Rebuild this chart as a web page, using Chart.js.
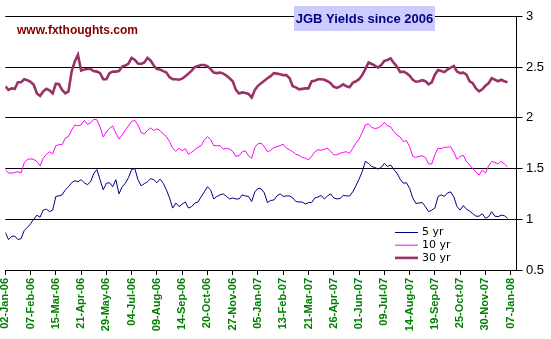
<!DOCTYPE html>
<html>
<head>
<meta charset="utf-8">
<title>JGB Yields since 2006</title>
<script src="https://cdn.jsdelivr.net/npm/chart.js@4/dist/chart.umd.min.js"></script>
<style>
  html, body { margin: 0; padding: 0; background: #ffffff; }
  canvas { display: block; }
</style>
</head>
<body>
<canvas id="jgbChart" width="551" height="339"></canvas>
<script>
// tick labels on the date axis, one every 26 trading days
var tickLabels = ["02-Jan-06", "07-Feb-06", "15-Mar-06", "21-Apr-06", "29-May-06", "04-Jul-06",
    "09-Aug-06", "14-Sep-06", "20-Oct-06", "27-Nov-06", "05-Jan-07", "13-Feb-07", "21-Mar-07",
    "26-Apr-07", "01-Jun-07", "09-Jul-07", "14-Aug-07", "19-Sep-07", "25-Oct-07", "30-Nov-07", "07-Jan-08"];
var samplesPerTick = 8;   // readings taken 8 times per labelled interval

var seriesNames = ["5 yr", "10 yr", "30 yr"];

var fiveYear = [
    0.87, 0.80, 0.83, 0.835, 0.80, 0.81, 0.89, 0.92, 0.955, 1.00,
    1.04, 1.02, 1.09, 1.10, 1.075, 1.09, 1.225, 1.23, 1.24, 1.29,
    1.32, 1.36, 1.38, 1.37, 1.39, 1.36, 1.34, 1.37, 1.45, 1.49,
    1.39, 1.29, 1.355, 1.36, 1.32, 1.39, 1.25, 1.32, 1.355, 1.41,
    1.49, 1.50, 1.39, 1.33, 1.35, 1.37, 1.40, 1.39, 1.36, 1.395,
    1.355, 1.29, 1.21, 1.11, 1.16, 1.125, 1.15, 1.17, 1.11, 1.125,
    1.16, 1.17, 1.22, 1.27, 1.32, 1.29, 1.20, 1.225, 1.24, 1.25,
    1.225, 1.20, 1.21, 1.20, 1.20, 1.24, 1.23, 1.225, 1.175, 1.27,
    1.305, 1.30, 1.26, 1.165, 1.185, 1.19, 1.23, 1.25, 1.225, 1.23,
    1.23, 1.21, 1.175, 1.17, 1.17, 1.15, 1.165, 1.165, 1.21, 1.22,
    1.235, 1.20, 1.23, 1.25, 1.21, 1.20, 1.205, 1.235, 1.23, 1.23,
    1.27, 1.33, 1.395, 1.47, 1.57, 1.55, 1.52, 1.51, 1.495, 1.51,
    1.55, 1.52, 1.535, 1.49, 1.455, 1.395, 1.355, 1.36, 1.305, 1.21,
    1.155, 1.16, 1.165, 1.125, 1.075, 1.09, 1.11, 1.225, 1.24, 1.225,
    1.26, 1.27, 1.22, 1.125, 1.09, 1.135, 1.10, 1.08, 1.055, 1.03,
    1.03, 1.055, 1.01, 1.025, 1.075, 1.03, 1.025, 1.04, 1.035, 1.01
];

var tenYear = [
    1.49, 1.455, 1.455, 1.46, 1.47, 1.455, 1.56, 1.59, 1.595, 1.59,
    1.57, 1.525, 1.60, 1.64, 1.665, 1.645, 1.725, 1.735, 1.735, 1.80,
    1.815, 1.88, 1.93, 1.92, 1.93, 1.975, 1.935, 1.95, 1.985, 1.98,
    1.91, 1.81, 1.86, 1.895, 1.92, 1.85, 1.79, 1.83, 1.88, 1.92,
    1.965, 1.975, 1.93, 1.855, 1.84, 1.875, 1.90, 1.875, 1.89, 1.875,
    1.84, 1.815, 1.765, 1.70, 1.67, 1.70, 1.675, 1.695, 1.64, 1.66,
    1.685, 1.71, 1.725, 1.785, 1.815, 1.785, 1.725, 1.725, 1.725, 1.69,
    1.70, 1.69, 1.67, 1.62, 1.625, 1.665, 1.675, 1.625, 1.60, 1.71,
    1.745, 1.75, 1.715, 1.665, 1.68, 1.705, 1.715, 1.725, 1.74, 1.70,
    1.685, 1.665, 1.64, 1.63, 1.61, 1.60, 1.585, 1.62, 1.665, 1.685,
    1.68, 1.69, 1.70, 1.67, 1.635, 1.635, 1.65, 1.66, 1.665, 1.65,
    1.70, 1.75, 1.79, 1.855, 1.93, 1.94, 1.905, 1.895, 1.90, 1.92,
    1.955, 1.92, 1.91, 1.865, 1.83, 1.81, 1.765, 1.775, 1.715, 1.62,
    1.61, 1.62, 1.625, 1.61, 1.545, 1.545, 1.635, 1.70, 1.695, 1.71,
    1.71, 1.715, 1.66, 1.59, 1.62, 1.63, 1.57, 1.535, 1.50, 1.465,
    1.435, 1.485, 1.455, 1.525, 1.57, 1.56, 1.545, 1.57, 1.545, 1.515
];

var thirtyYear = [
    2.31, 2.275, 2.29, 2.285, 2.35, 2.35, 2.38, 2.37, 2.355, 2.325,
    2.24, 2.215, 2.26, 2.285, 2.27, 2.24, 2.335, 2.33, 2.275, 2.24,
    2.26, 2.455, 2.555, 2.62, 2.465, 2.475, 2.48, 2.48, 2.46, 2.455,
    2.44, 2.38, 2.38, 2.44, 2.455, 2.455, 2.46, 2.505, 2.515, 2.535,
    2.59, 2.57, 2.535, 2.53, 2.545, 2.59, 2.565, 2.515, 2.48, 2.475,
    2.46, 2.445, 2.40, 2.38, 2.38, 2.375, 2.385, 2.41, 2.435, 2.465,
    2.50, 2.51, 2.52, 2.52, 2.51, 2.48, 2.445, 2.44, 2.445, 2.435,
    2.415, 2.39, 2.36, 2.275, 2.24, 2.25, 2.245, 2.235, 2.20, 2.275,
    2.315, 2.34, 2.365, 2.39, 2.41, 2.44, 2.435, 2.43, 2.42, 2.42,
    2.39, 2.31, 2.30, 2.28, 2.285, 2.29, 2.29, 2.36, 2.365, 2.38,
    2.38, 2.375, 2.36, 2.34, 2.305, 2.295, 2.31, 2.33, 2.31, 2.30,
    2.345, 2.36, 2.38, 2.42, 2.48, 2.545, 2.53, 2.515, 2.495, 2.52,
    2.56, 2.57, 2.585, 2.54, 2.505, 2.45, 2.455, 2.44, 2.415, 2.375,
    2.355, 2.36, 2.37, 2.36, 2.33, 2.35, 2.425, 2.47, 2.46, 2.45,
    2.475, 2.495, 2.51, 2.455, 2.44, 2.445, 2.425, 2.36, 2.34, 2.29,
    2.26, 2.28, 2.315, 2.34, 2.39, 2.375, 2.36, 2.375, 2.36, 2.35
];

var titleText = "JGB Yields since 2006";
var siteText = "www.fxthoughts.com";

function toPoints(values) {
    return values.map(function(v, i) { return { x: i, y: v }; });
}

// title box, site name and the legend sit inside the plot like in the excel original
var overlayPlugin = {
    id: 'overlay',
    afterDraw: function(chart) {
        var ctx = chart.ctx;
        ctx.save();

        ctx.fillStyle = '#CCCCFF';
        ctx.fillRect(294, 6, 141, 25);
        ctx.fillStyle = '#000080';
        ctx.font = 'bold 13px "Liberation Sans", Arial, sans-serif';
        ctx.textAlign = 'center';
        ctx.textBaseline = 'middle';
        ctx.fillText(titleText, 364.5, 19);

        ctx.fillStyle = '#800000';
        ctx.font = 'bold 12px "Liberation Sans", Arial, sans-serif';
        ctx.textAlign = 'left';
        ctx.fillText(siteText, 17, 30.5);

        ctx.font = '11px "DejaVu Sans", sans-serif';
        chart.data.datasets.forEach(function(ds, i) {
            var y = 232.5 + i * 12.7;
            ctx.strokeStyle = ds.borderColor;
            ctx.lineWidth = ds.borderWidth;
            ctx.beginPath();
            ctx.moveTo(395, y);
            ctx.lineTo(418, y);
            ctx.stroke();
            ctx.fillStyle = '#000000';
            ctx.fillText(ds.label, 422, y);
        });
        ctx.restore();
    }
};

var ctx = document.getElementById('jgbChart').getContext('2d');
var chart = new Chart(ctx, {
    type: 'line',
    data: {
        datasets: [
            { label: seriesNames[0], data: toPoints(fiveYear), borderColor: '#000080', borderWidth: 1 },
            { label: seriesNames[1], data: toPoints(tenYear), borderColor: '#FF00FF', borderWidth: 1 },
            { label: seriesNames[2], data: toPoints(thirtyYear), borderColor: '#993366', borderWidth: 2.6 }
        ]
    },
    options: {
        responsive: false,
        animation: false,
        devicePixelRatio: 1,
        elements: {
            point: { radius: 0 },
            line: { tension: 0, borderJoinStyle: 'miter' }
        },
        layout: { padding: { left: 5.3, top: 16.3, right: 0, bottom: 0 } },
        plugins: {
            legend: { display: false },
            title: { display: false },
            tooltip: { enabled: false }
        },
        scales: {
            x: {
                type: 'linear',
                min: 0,
                max: 20.23 * samplesPerTick,
                grid: { drawOnChartArea: false, drawTicks: true, tickLength: 5, color: '#000000' },
                border: { display: true, color: '#000000', width: 1 },
                afterBuildTicks: function(scale) {
                    scale.ticks = tickLabels.map(function(_, i) { return { value: i * samplesPerTick }; });
                },
                afterFit: function(scale) {
                    scale.height = 69;
                    scale.paddingLeft = 0;
                    scale.paddingRight = 0;
                },
                ticks: {
                    autoSkip: false,
                    minRotation: 90,
                    maxRotation: 90,
                    padding: 3,
                    color: '#008000',
                    font: { family: '"Liberation Sans", Arial, sans-serif', size: 11, weight: 'bold' },
                    callback: function(value) {
                        return tickLabels[Math.round(value / samplesPerTick)];
                    }
                }
            },
            y: {
                position: 'right',
                min: 0.5,
                max: 3,
                grid: { color: '#000000', lineWidth: 1, tickLength: 6 },
                border: { display: true, color: '#000000', width: 1 },
                afterFit: function(scale) {
                    scale.width = 34.5;
                    scale.paddingTop = 0;
                    scale.paddingBottom = 0;
                },
                ticks: {
                    stepSize: 0.5,
                    padding: 3.5,
                    color: '#000000',
                    font: { family: '"Liberation Sans", Arial, sans-serif', size: 13 },
                    callback: function(value) { return String(value); }
                }
            }
        }
    },
    plugins: [overlayPlugin]
});
</script>
</body>
</html>
